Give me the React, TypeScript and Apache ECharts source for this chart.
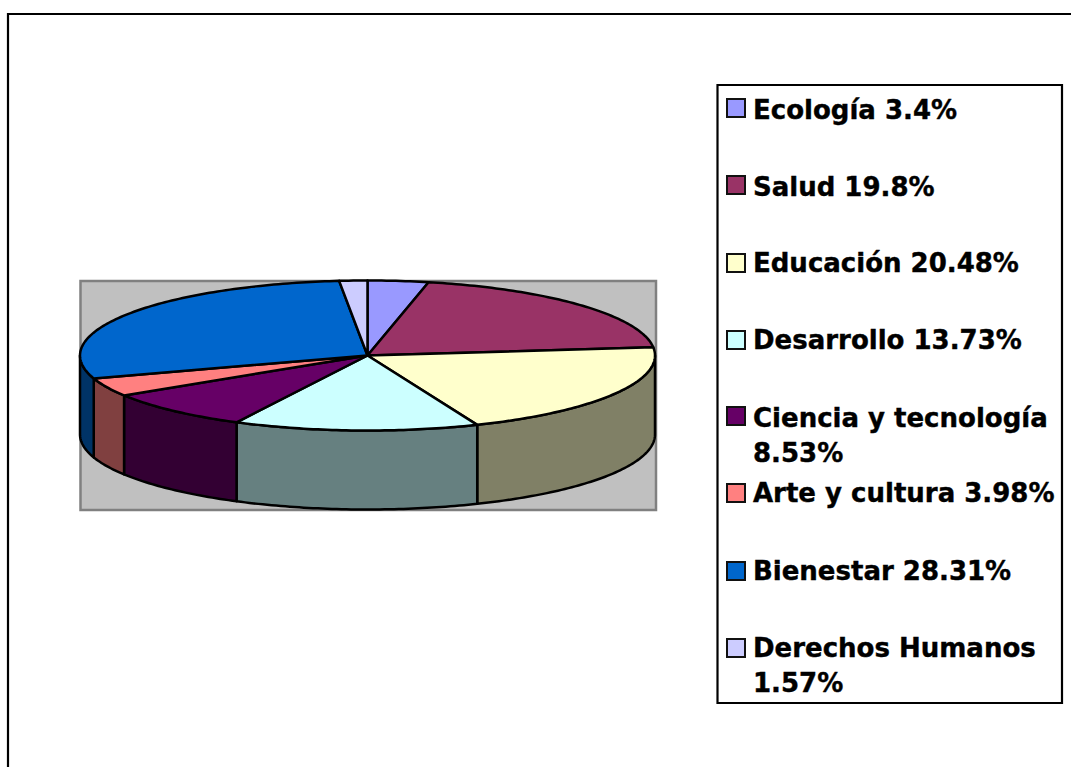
import React, { useEffect, useRef } from "react";
import * as echarts from "echarts";

const categories = ["Ecología", "Salud", "Educación", "Desarrollo", "Ciencia y tecnología", "Arte y cultura", "Bienestar", "Derechos Humanos"];
const values = [3.4, 19.8, 20.48, 13.73, 8.53, 3.98, 28.31, 1.57];
const valueLabels = ["3.4%", "19.8%", "20.48%", "13.73%", "8.53%", "3.98%", "28.31%", "1.57%"];
const topColors = ["#9999FF", "#993366", "#FFFFCC", "#CCFFFF", "#660066", "#FF8080", "#0066CC", "#CCCCFF"];
const sideColors = ["#4D4D80", "#4D1A33", "#808066", "#668080", "#330033", "#804040", "#003366", "#666680"];
const legendCenters = [108, 185, 263, 340, 416, 493, 571, 648];
const legendTextTops = [92, 169, 245, 322, 400, 475, 553, 630];
const wrapped = [false, false, false, false, true, false, false, true];

const CX = 367.5, CY = 355.5, RX = 287.5, RY = 75, DEPTH = 79;
const total = values.reduce((a, b) => a + b, 0);
let running = 0;
const rows = values.map((v) => {
  const r = [v, running];
  running += v;
  return r;
});

const pt = (a: number, dy = 0): number[] => [CX + RX * Math.sin(a), CY - RY * Math.cos(a) + dy];
const arc = (a0: number, a1: number, dy = 0): number[][] => {
  const n = Math.max(2, Math.ceil(Math.abs(a1 - a0) * 60));
  const out: number[][] = [];
  for (let i = 0; i <= n; i++) out.push(pt(a0 + ((a1 - a0) * i) / n, dy));
  return out;
};
const angle = (v: number) => (v / total) * Math.PI * 2;
const edge = { stroke: "#000", lineWidth: 2.5, lineJoin: "round" as const };

function renderSide(params: any, api: any) {
  const start = angle(api.value(1));
  const end = start + angle(api.value(0));
  const a0 = Math.max(start, Math.PI / 2);
  const a1 = Math.min(end, (Math.PI * 3) / 2);
  if (a1 <= a0) return { type: "group", children: [] };
  const points = [...arc(a0, a1), ...arc(a1, a0, DEPTH)];
  return { type: "polygon", shape: { points }, style: { fill: sideColors[params.dataIndex], ...edge } };
}

function renderTop(params: any, api: any) {
  const start = angle(api.value(1));
  const end = start + angle(api.value(0));
  const points = [[CX, CY], ...arc(start, end)];
  return { type: "polygon", shape: { points }, style: { fill: topColors[params.dataIndex], ...edge } };
}

const legendGraphics: any[] = [
  { type: "rect", z: 0, shape: { x: 717.5, y: 85, width: 344.5, height: 618 }, style: { fill: "#fff", stroke: "#000", lineWidth: 2.2 } },
];
categories.forEach((c, i) => {
  const y = legendCenters[i];
  legendGraphics.push({
    type: "rect",
    z: 1,
    shape: { x: 727, y: y - 9, width: 18, height: 18 },
    style: { fill: topColors[i], stroke: "#111", lineWidth: 2 },
  });
  legendGraphics.push({
    type: "text",
    z: 1,
    x: 753,
    y: legendTextTops[i],
    style: {
      text: c + (wrapped[i] ? "\n" : " ") + valueLabels[i],
      fill: "#000",
      stroke: "#000",
      lineWidth: 0.4,
      font: "bold 26px 'DejaVu Sans'",
      lineHeight: 35,
      textVerticalAlign: "top",
    },
  });
});

export default function App() {
  const ref = useRef<HTMLDivElement>(null);
  useEffect(() => {
    const chart = echarts.init(ref.current!, undefined, { renderer: "svg" });
    chart.setOption({
      animation: false,
      graphic: {
        elements: [
          { type: "rect", z: 0, shape: { x: 8, y: 14, width: 1080, height: 780 }, style: { fill: "#fff", stroke: "#000", lineWidth: 2.2 } },
          { type: "rect", z: 0, shape: { x: 80.5, y: 281, width: 575.5, height: 229 }, style: { fill: "#C0C0C0", stroke: "#808080", lineWidth: 2.5 } },
          ...legendGraphics,
        ],
      },
      series: [
        { type: "custom", coordinateSystem: "none", z: 2, data: rows, renderItem: renderSide, silent: true },
        { type: "custom", coordinateSystem: "none", z: 3, data: rows, renderItem: renderTop, silent: true },
      ],
    });
    return () => chart.dispose();
  }, []);
  return <div ref={ref} style={{ position: "absolute", left: 0, top: 0, width: 1071, height: 767, overflow: "hidden" }} />;
}
